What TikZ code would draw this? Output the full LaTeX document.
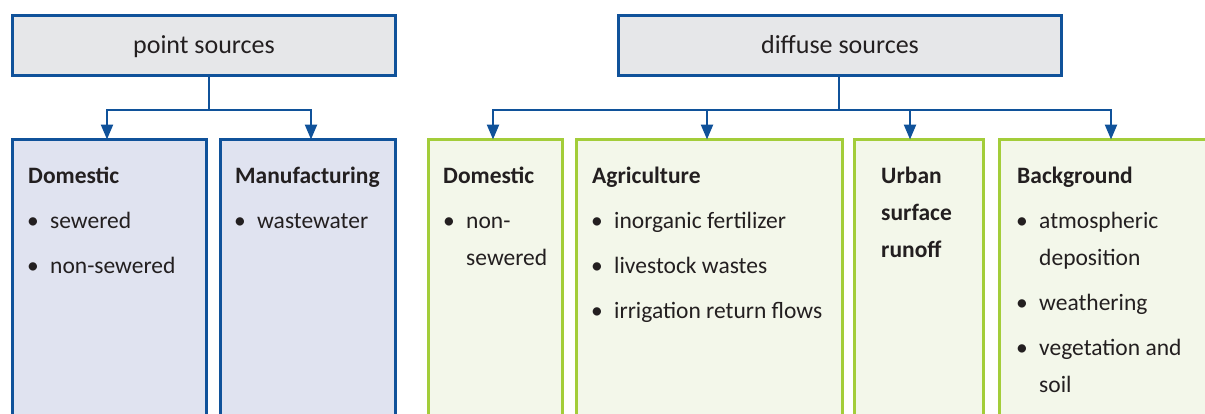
\documentclass[tikz,border=0pt]{standalone}
\usepackage{fontspec}
\setmainfont{Carlito}
\usetikzlibrary{arrows.meta}
\definecolor{blueline}{RGB}{16,82,154}
\definecolor{topfill}{RGB}{230,231,233}
\definecolor{lavfill}{RGB}{224,227,240}
\definecolor{greenline}{RGB}{163,205,58}
\definecolor{greenfill}{RGB}{243,247,234}
\definecolor{txt}{RGB}{35,31,32}
\tikzset{
  topbox/.style={draw=blueline, fill=topfill, line width=3pt, rectangle, inner sep=0pt, outer sep=0pt, minimum height=60pt},
  pbox/.style={draw=blueline, fill=lavfill, line width=3pt, rectangle, inner sep=0pt, outer sep=0pt, minimum height=300.5pt},
  dbox/.style={draw=greenline, fill=greenfill, line width=3pt, rectangle, inner sep=0pt, outer sep=0pt, minimum height=300.5pt},
  conn/.style={draw=blueline, line width=2.4pt},
  arr/.style={draw=blueline, line width=2.4pt, -{Triangle[width=12pt,length=15pt]}},
  toptxt/.style={anchor=base, inner sep=0pt, text=txt, font=\fontsize{26}{30}\selectfont},
  head/.style={anchor=base west, inner sep=0pt, text=txt, font=\fontsize{23.5}{28}\selectfont\bfseries},
  item/.style={anchor=base west, inner sep=0pt, text=txt, font=\fontsize{23.5}{28}\selectfont},
  bul/.style={anchor=base, inner sep=0pt, text=txt, font=\fontsize{23.5}{28}\selectfont},
}
\begin{document}
\begin{tikzpicture}[x=1pt,y=-1pt]
\useasboundingbox (0,0) rectangle (1205,413);
\clip (0,0) rectangle (1205,413);
% top boxes
\node[topbox, minimum width=383pt] (ps) at (204,45.5) {};
\node[topbox, minimum width=443pt] (ds) at (840,45.5) {};
\node[toptxt] (pst) at (204,53) {point sources};
\node[toptxt] (dst) at (840,53) {diffuse sources};
% lower boxes
\node[pbox, minimum width=194pt] (pd) at (109.5,289.75) {};
\node[pbox, minimum width=175pt] (pm) at (308,289.75) {};
\node[dbox, minimum width=134pt] (dd) at (495.5,289.75) {};
\node[dbox, minimum width=266pt] (ag) at (709.5,289.75) {};
\node[dbox, minimum width=129pt] (ur) at (919,289.75) {};
\node[dbox, minimum width=230pt] (bg) at (1114.5,289.75) {};
% junctions and arrow columns
\coordinate (pj) at (209,110);
\coordinate (dj) at (839,110);
\coordinate (c1) at (107,110);
\coordinate (c2) at (311,110);
\coordinate (c3) at (493,110);
\coordinate (c4) at (707,110);
\coordinate (c5) at (910,110);
\coordinate (c6) at (1111,110);
\draw[conn] (pj |- ps.south) -- (pj);
\draw[arr] (pj) -| (c1 |- pd.north);
\draw[arr] (pj) -| (c2 |- pm.north);
\draw[conn] (dj |- ds.south) -- (dj);
\draw[arr] (dj) -| (c3 |- dd.north);
\draw[arr] (dj) -| (c4 |- ag.north);
\draw[arr] (dj) -| (c5 |- ur.north);
\draw[arr] (dj) -| (c6 |- bg.north);
% point domestic
\node[head] (pdh) at (28,183) {Domestic};
\node[bul] (pdb1) at (33,228) {•};
\node[item] (pdi1) at (50,228) {sewered};
\node[bul] (pdb2) at (33,273) {•};
\node[item] (pdi2) at (50,273) {non-sewered};
% manufacturing
\node[head] (pmh) at (235,183) {Manufacturing};
\node[bul] (pmb1) at (240,228) {•};
\node[item] (pmi1) at (257,228) {wastewater};
% diffuse domestic
\node[head] (ddh) at (443,183) {Domestic};
\node[bul] (ddb1) at (449,228) {•};
\node[item] (ddi1) at (466,228) {non-};
\node[item] (ddi1b) at (466,265) {sewered};
% agriculture
\node[head] (agh) at (592,183) {Agriculture};
\node[bul] (agb1) at (597,228) {•};
\node[item] (agi1) at (614,228) {inorganic fertilizer};
\node[bul] (agb2) at (597,273) {•};
\node[item] (agi2) at (614,273) {livestock wastes};
\node[bul] (agb3) at (597,318) {•};
\node[item] (agi3) at (614,318) {irrigation return flows};
% urban
\node[head] (urh1) at (881,183) {Urban};
\node[head] (urh2) at (881,220) {surface};
\node[head] (urh3) at (881,257) {runoff};
% background
\node[head] (bgh) at (1017,183) {Background};
\node[bul] (bgb1) at (1022,228) {•};
\node[item] (bgi1) at (1039,228) {atmospheric};
\node[item] (bgi1b) at (1039,265) {deposition};
\node[bul] (bgb2) at (1022,310) {•};
\node[item] (bgi2) at (1039,310) {weathering};
\node[bul] (bgb3) at (1022,355) {•};
\node[item] (bgi3) at (1039,355) {vegetation and};
\node[item] (bgi3b) at (1039,392) {soil};
\end{tikzpicture}
\end{document}
